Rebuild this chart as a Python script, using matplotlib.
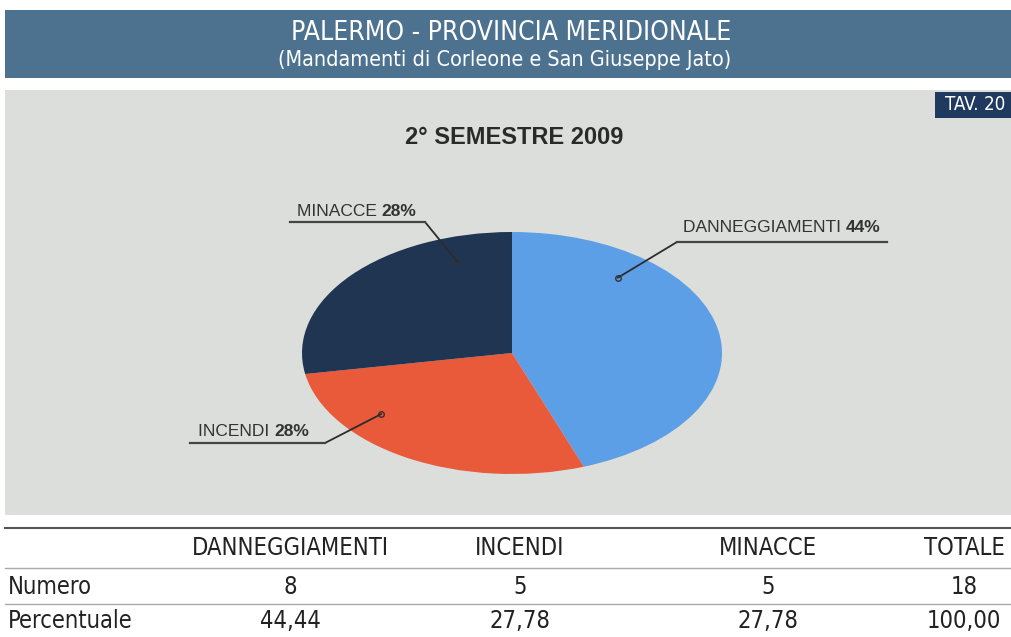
import numpy as np
import matplotlib
matplotlib.use("Agg")
import matplotlib.pyplot as plt
from matplotlib.patches import Rectangle
from matplotlib.lines import Line2D

# data
categories = ["DANNEGGIAMENTI", "INCENDI", "MINACCE"]
numero = [8, 5, 5]
percentuale = ["44,44", "27,78", "27,78"]
pie_pct = ["44%", "28%", "28%"]
colors = ["#5d9fe6", "#e95a3b", "#1f3552"]

W, H = 1011, 637
plt.rcParams["font.family"] = ["DejaVu Sans"]
plt.rcParams["font.stretch"] = "condensed"
fig = plt.figure(figsize=(W / 100, H / 100), dpi=100)
fig.patch.set_facecolor("white")


def fx(x):
    return x / W


def fy(y):
    return 1 - y / H


# header band
fig.add_artist(Rectangle((fx(5), fy(78)), fx(1006), 68 / H, transform=fig.transFigure,
                         facecolor="#4d7290", edgecolor="none", zorder=-5))
fig.text(fx(511), fy(33), "PALERMO - PROVINCIA MERIDIONALE", color="white",
         fontsize=19, ha="center", va="center")
fig.text(fx(505), fy(60), "(Mandamenti di Corleone e San Giuseppe Jato)", color="white",
         fontsize=15.5, ha="center", va="center")

# gray panel
fig.add_artist(Rectangle((fx(5), fy(515)), fx(1006), 425 / H, transform=fig.transFigure,
                         facecolor="#dcdedb", edgecolor="none", zorder=-5))
fig.add_artist(Rectangle((fx(935), fy(118)), fx(76), 26 / H, transform=fig.transFigure,
                         facecolor="#1f3a5e", edgecolor="none", zorder=-4))
fig.text(fx(975), fy(105), "TAV. 20", color="white", fontsize=13.5, ha="center", va="center")
fig.text(fx(514), fy(138), "2° SEMESTRE 2009", color="#2a2a2a", fontsize=17,
         fontweight="bold", ha="center", va="center", family=["Liberation Sans", "DejaVu Sans"])

# pie, squashed into an ellipse
cx, cy, rx, ry = 512, 353, 210, 121
ax = fig.add_axes([fx(cx - rx), fy(cy + ry), 2 * rx / W, 2 * ry / H])
wedges, _ = ax.pie(numero, colors=colors, startangle=90, counterclock=False,
                   wedgeprops=dict(linewidth=0))
ax.set_aspect("auto")
ax.set_xlim(-1, 1)
ax.set_ylim(-1, 1)
ax.axis("off")

# labels: anchor angle (deg), elbow, underline end, text position
label_layout = [
    (51, (677, 242), (887, 242), (683, 228)),
    (219, (325, 443), (190, 443), (198, 431)),
    (109, (425, 222), (290, 222), (297, 211)),
]
lab_font = ["Liberation Sans", "DejaVu Sans"]
for i, (ang, elbow, uend, tpos) in enumerate(label_layout):
    a = np.deg2rad(ang)
    px, py = 0.8 * np.cos(a), 0.8 * np.sin(a)
    ax.annotate("", xy=(px, py), xycoords="data",
                xytext=(fx(elbow[0]), fy(elbow[1])), textcoords="figure fraction",
                arrowprops=dict(arrowstyle="-", color="#2c2c2c", lw=1.3,
                                shrinkA=0, shrinkB=0), annotation_clip=False)
    ax.plot(px, py, "o", ms=4, mfc="none", mec="#333333", mew=1, clip_on=False)
    fig.add_artist(Line2D([fx(elbow[0]), fx(uend[0])], [fy(elbow[1]), fy(uend[1])],
                          transform=fig.transFigure, color="#444444", lw=1.6))
    t = fig.text(fx(tpos[0]), fy(tpos[1]), categories[i] + " ", color="#333333",
                 fontsize=12.5, ha="left", va="center", family=lab_font)
    fig.canvas.draw()
    bb = t.get_window_extent()
    fig.text(bb.x1 / W, fy(tpos[1]), pie_pct[i], color="#333333", fontsize=12.5,
             fontweight="bold", ha="left", va="center", family=lab_font)

# table
fig.add_artist(Line2D([fx(5), fx(1011)], [fy(528), fy(528)], transform=fig.transFigure,
                      color="#555555", lw=1.5))
for yl in (568, 604):
    fig.add_artist(Line2D([fx(5), fx(1011)], [fy(yl), fy(yl)], transform=fig.transFigure,
                          color="#aaaaaa", lw=1))
col_x = [290, 520, 768, 964]
headers = categories + ["TOTALE"]
totale = sum(numero)
row_num = [str(v) for v in numero] + [str(totale)]
row_pct = percentuale + ["100,00"]
fs = 17
for x, h, n, p in zip(col_x, headers, row_num, row_pct):
    fig.text(fx(x), fy(548), h, fontsize=fs, color="#222222", ha="center", va="center")
    fig.text(fx(x), fy(587), n, fontsize=fs, color="#222222", ha="center", va="center")
    fig.text(fx(x), fy(621), p, fontsize=fs, color="#222222", ha="center", va="center")
fig.text(fx(8), fy(587), "Numero", fontsize=fs, color="#222222", ha="left", va="center")
fig.text(fx(8), fy(621), "Percentuale", fontsize=fs, color="#222222", ha="left", va="center")

fig.savefig("out.png", dpi=100)
